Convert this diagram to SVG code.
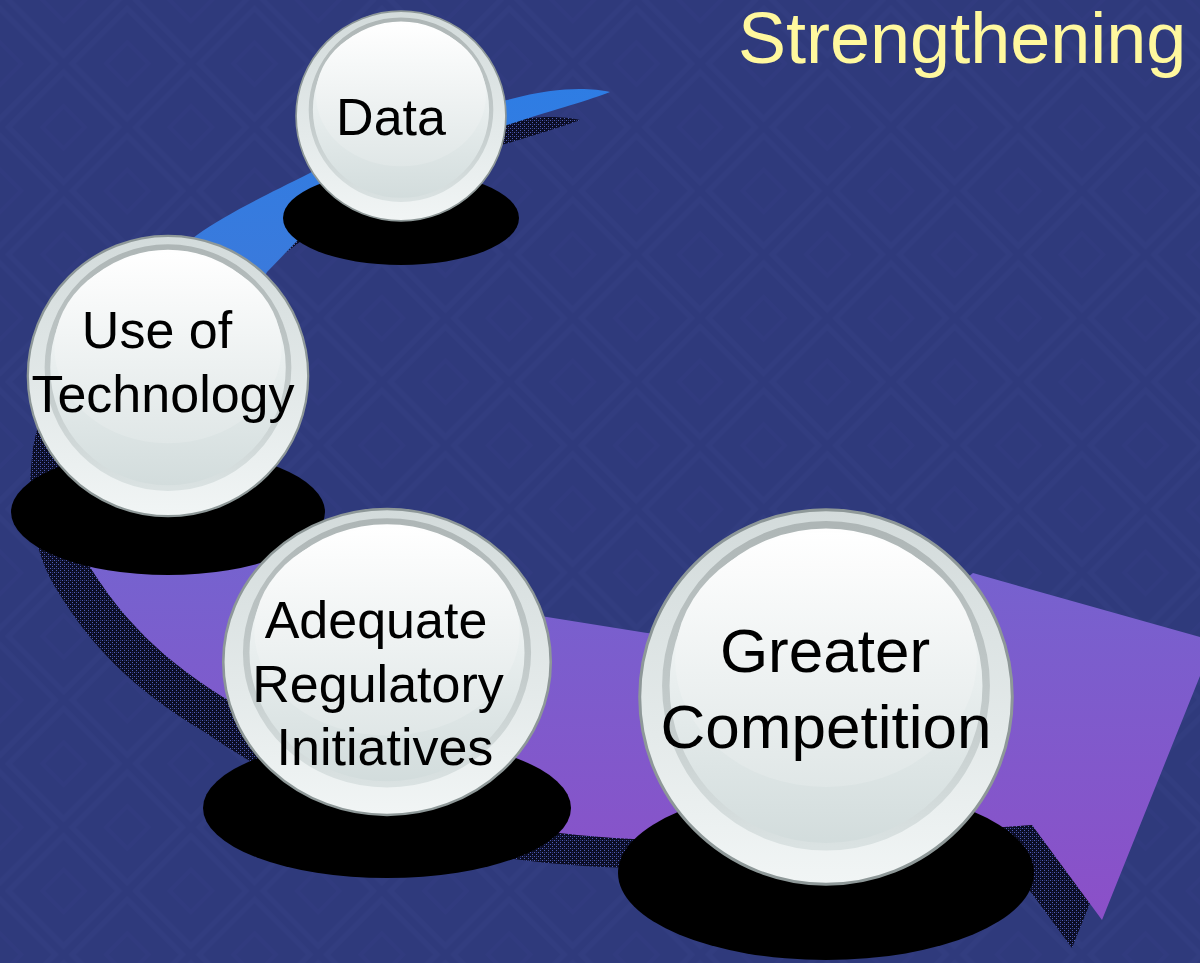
<svg xmlns="http://www.w3.org/2000/svg" xmlns:xlink="http://www.w3.org/1999/xlink" width="1200" height="963" viewBox="0 0 1200 963">
<defs>
<style>
.lbl{font-family:"Liberation Sans",Arial,sans-serif;fill:#000;text-anchor:middle}
.base{fill:#000}
</style>
<pattern id="bgpat" width="90" height="90" patternUnits="userSpaceOnUse" patternTransform="rotate(45)">
<rect width="90" height="90" fill="#2F3A7C"/>
<rect x="6" y="6" width="78" height="78" fill="none" stroke="#3A4689" stroke-width="5" opacity="0.3"/>
<rect x="30" y="30" width="30" height="30" fill="none" stroke="#37428a" stroke-width="4" opacity="0.2"/>
</pattern>
<pattern id="tex" width="4" height="4" patternUnits="userSpaceOnUse">
<rect width="4" height="4" fill="#0B0D24"/>
<rect x="0" y="0" width="1" height="1" fill="#4F5DB5"/>
<rect x="2" y="2" width="1" height="1" fill="#4F5DB5"/>
<rect x="2" y="0" width="1" height="1" fill="#2A3370"/>
</pattern>
<linearGradient id="band" gradientUnits="userSpaceOnUse" x1="0" y1="85" x2="0" y2="930">
<stop offset="0" stop-color="#2E7DE4"/>
<stop offset="0.22" stop-color="#3A7ADC"/>
<stop offset="0.55" stop-color="#7563CF"/>
<stop offset="1" stop-color="#8C4FC8"/>
</linearGradient>
<linearGradient id="rim" x1="0" y1="0" x2="0" y2="1">
<stop offset="0" stop-color="#D3DBDB"/>
<stop offset="0.6" stop-color="#E4EAEA"/>
<stop offset="1" stop-color="#F1F5F5"/>
</linearGradient>
<linearGradient id="disk" x1="0" y1="0" x2="0" y2="1">
<stop offset="0" stop-color="#FFFFFF"/>
<stop offset="0.5" stop-color="#E8EEEE"/>
<stop offset="1" stop-color="#D2DCDC"/>
</linearGradient>
<linearGradient id="diskEdge" x1="0" y1="0" x2="0" y2="1">
<stop offset="0" stop-color="#AEB6B6"/>
<stop offset="0.6" stop-color="#C4CCCC"/>
<stop offset="1" stop-color="#DAE2E2"/>
</linearGradient>
<linearGradient id="hl" x1="0" y1="0" x2="0" y2="1">
<stop offset="0" stop-color="#FFFFFF"/>
<stop offset="1" stop-color="#E0E7E7"/>
</linearGradient>
<symbol id="orb" viewBox="-102 -102 204 204" preserveAspectRatio="none">
<circle r="100" fill="url(#rim)" stroke="#8E9898" stroke-width="1.6"/>
<circle cx="0" cy="-6" r="86" fill="url(#disk)" stroke="url(#diskEdge)" stroke-width="4"/>
<ellipse cx="0" cy="-20" rx="81" ry="68" fill="url(#hl)"/>
</symbol>
</defs>
<rect width="1200" height="963" fill="url(#bgpat)"/>
<text x="738" y="63" font-family="Liberation Sans, Arial, sans-serif" font-size="72" fill="#FFF89E">Strengthening</text>
<g id="connectors">
<path id="arrow-shadow" transform="translate(-30,28)" fill="url(#tex)" d="M610,92 C590,88 560,86 507,100 C430,118 360,145 310,173 C260,198 225,215 197,235 C130,285 75,350 63,420 C55,480 65,530 90,567 C120,615 160,660 233,703 C330,770 450,820 560,833 C700,850 900,835 1032,825 L1102,920 L1214,641 L973,573 C940,600 920,630 900,640 C800,645 720,640 647,633 L547,617 C480,607 380,590 300,560 C260,545 240,500 235,450 C230,400 240,320 267,272 L298,240 C340,200 430,150 507,125 C560,108 590,100 610,92 Z"/>
<path id="arrow" fill="url(#band)" d="M610,92 C590,88 560,86 507,100 C430,118 360,145 310,173 C260,198 225,215 197,235 C130,285 75,350 63,420 C55,480 65,530 90,567 C120,615 160,660 233,703 C330,770 450,820 560,833 C700,850 900,835 1032,825 L1102,920 L1214,641 L973,573 C940,600 920,630 900,640 C800,645 720,640 647,633 L547,617 C480,607 380,590 300,560 C260,545 240,500 235,450 C230,400 240,320 267,272 L298,240 C340,200 430,150 507,125 C560,108 590,100 610,92 Z"/>
</g>
<g id="node-data">
<ellipse class="base" cx="401" cy="218" rx="118" ry="47"/>
<use xlink:href="#orb" href="#orb" x="294" y="9" width="214" height="214"/>
<text class="lbl" x="391" y="135" font-size="52">Data</text>
</g>
<g id="node-technology">
<ellipse class="base" cx="168" cy="512" rx="157" ry="63"/>
<use xlink:href="#orb" href="#orb" x="25" y="233" width="286" height="286"/>
<text class="lbl" x="157" y="348" font-size="52">Use of</text>
<text class="lbl" x="163" y="412" font-size="52">Technology</text>
</g>
<g id="node-regulatory">
<ellipse class="base" cx="387" cy="808" rx="184" ry="70"/>
<use xlink:href="#orb" href="#orb" x="220" y="506" width="334" height="312"/>
<text class="lbl" x="376" y="638" font-size="52">Adequate</text>
<text class="lbl" x="378" y="702" font-size="52">Regulatory</text>
<text class="lbl" x="385" y="765" font-size="52">Initiatives</text>
</g>
<g id="node-competition">
<ellipse class="base" cx="826" cy="873" rx="208" ry="87"/>
<use xlink:href="#orb" href="#orb" x="636" y="506" width="380" height="382"/>
<text class="lbl" x="825" y="672" font-size="62">Greater</text>
<text class="lbl" x="826" y="748" font-size="62">Competition</text>
</g>
</svg>
